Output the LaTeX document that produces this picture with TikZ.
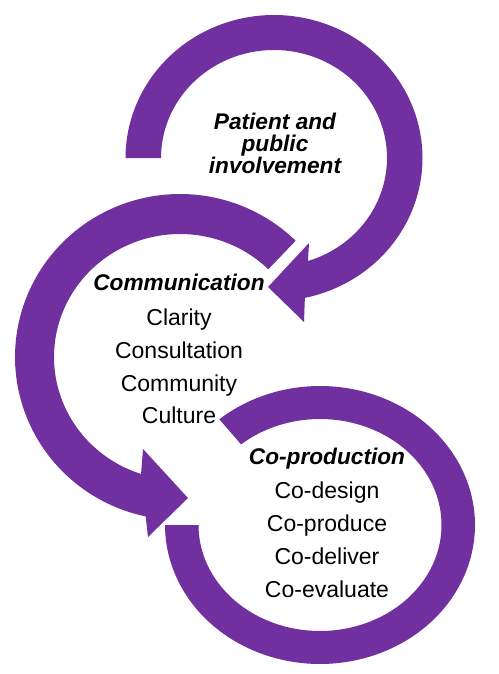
\documentclass[tikz,border=0pt]{standalone}
\usepackage{fontspec}
\setmainfont{Liberation Sans}
\definecolor{arcpurple}{RGB}{112,48,160}
\tikzset{
  arcfill/.style={fill=arcpurple, draw=none},
  headtxt/.style={anchor=base, inner sep=0pt, font=\fontsize{17}{20}\selectfont\bfseries\itshape},
  itemtxt/.style={anchor=base, inner sep=0pt, font=\fontsize{17.25}{20}\selectfont},
}
\begin{document}
\begin{tikzpicture}[x=0.75pt, y=-0.75pt]
\useasboundingbox (0,0) rectangle (499,674);
% top circular arrow (clockwise)
\fill[arcfill] plot[domain=180:438, samples=120] ({274+148.5*cos(\x)},{158+143*sin(\x)})
  -- (304,322) -- (268,287) -- (309,243)
  -- plot[domain=0:252.5, samples=120] ({274+113*cos(432.5-\x)},{158+108*sin(432.5-\x)})
  -- cycle;
% middle circular arrow (counter-clockwise)
\fill[arcfill] plot[domain=0:212.5, samples=120] ({180+165*cos(-45.5-\x)},{357+163*sin(-45.5-\x)})
  -- (148,537) -- (188,498) -- (143,449)
  -- plot[domain=0:206.5, samples=120] ({180+126*cos(-252+\x)},{357+123*sin(-252+\x)})
  -- cycle;
% bottom arc (no head)
\fill[arcfill] plot[domain=0:310.5, samples=150] ({320+155*cos(180-\x)},{525+139*sin(180-\x)})
  -- plot[domain=0:310.5, samples=150] ({320+121.5*cos(-130.5+\x)},{525+106*sin(-130.5+\x)})
  -- cycle;
% texts
\node[headtxt] (p1) at (275,129) {Patient and};
\node[headtxt] (p2) at (275,151) {public};
\node[headtxt] (p3) at (275,173) {involvement};
\node[headtxt] (c0) at (179,290) {Communication};
\node[itemtxt] (c1) at (179,325) {Clarity};
\node[itemtxt] (c2) at (179,358) {Consultation};
\node[itemtxt] (c3) at (179,391) {Community};
\node[itemtxt] (c4) at (179,423) {Culture};
\node[headtxt] (q0) at (327,464) {Co-production};
\node[itemtxt] (q1) at (327,498) {Co-design};
\node[itemtxt] (q2) at (327,531) {Co-produce};
\node[itemtxt] (q3) at (327,564) {Co-deliver};
\node[itemtxt] (q4) at (327,597) {Co-evaluate};
\end{tikzpicture}
\end{document}
